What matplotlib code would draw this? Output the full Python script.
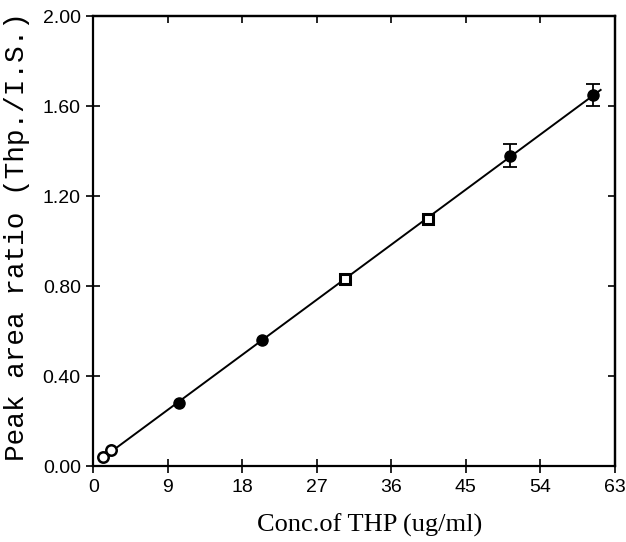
import numpy as np
import matplotlib
matplotlib.use("Agg")
import matplotlib.pyplot as plt
from matplotlib import font_manager

# Data
conc = [1.2, 2.1, 10.4, 20.4, 30.4, 40.4, 50.4, 60.4]
ratio = [0.04, 0.07, 0.28, 0.56, 0.83, 1.10, 1.38, 1.65]
err = [0.0, 0.0, 0.0, 0.0, 0.0, 0.0, 0.05, 0.05]
marker_kind = ["open", "open", "filled", "filled", "square", "square", "filled", "filled"]
xticks = [0, 9, 18, 27, 36, 45, 54, 63]
yticks = [0.00, 0.40, 0.80, 1.20, 1.60, 2.00]

names = {f.name for f in font_manager.fontManager.ttflist}
tickfont = "Liberation Sans Narrow" if "Liberation Sans Narrow" in names else "Liberation Sans"

fig = plt.figure(figsize=(6.26, 5.42), dpi=100)
ax = fig.add_axes([0.149, 0.140, 0.833, 0.830])

# regression line
p = np.polyfit(conc, ratio, 1)
xl = np.array([2.0, 61.3])
ax.plot(xl, np.polyval(p, xl), color="black", lw=1.4, zorder=2)

for x, y, e, k in zip(conc, ratio, err, marker_kind):
    if e > 0:
        ax.errorbar(x, y, yerr=e, fmt="none", ecolor="black", elinewidth=1.3,
                    capsize=5, capthick=1.3, zorder=3)
    if k == "filled":
        ax.plot(x, y, "o", ms=8, mfc="black", mec="black", zorder=4)
    elif k == "square":
        ax.plot(x, y, "s", ms=7, mfc="white", mec="black", mew=2.2, zorder=4)
    else:
        ax.plot(x, y, "o", ms=7.5, mfc="white", mec="black", mew=1.8, zorder=4)

ax.set_xlim(0, 63)
ax.set_ylim(0, 2.0)
ax.set_xticks(xticks)
ax.set_yticks(yticks)
ax.set_xticklabels([str(t) for t in xticks], fontfamily=tickfont, fontsize=14)
ax.set_yticklabels([f"{t:.2f}" for t in yticks], fontfamily=tickfont, fontsize=14)
ax.tick_params(axis="both", which="major", direction="inout", length=10, width=1.2, pad=4)
for s in ax.spines.values():
    s.set_linewidth(1.6)

# inward ticks on top and right
top = ax.secondary_xaxis("top")
top.set_xticks(xticks)
top.tick_params(direction="in", length=5, width=1.2, labeltop=False)
right = ax.secondary_yaxis("right")
right.set_yticks(yticks)
right.tick_params(direction="in", length=5, width=1.2, labelright=False)
top.spines["top"].set_linewidth(1.6)
right.spines["right"].set_linewidth(1.6)

ax.set_xlabel("Conc.of THP (ug/ml)", fontfamily="Liberation Serif", fontsize=19)
ax.xaxis.set_label_coords(0.53, -0.105)
ax.set_ylabel("Peak area ratio (Thp./I.S.)", fontfamily="Liberation Mono", fontsize=20)
ax.yaxis.set_label_coords(-0.122, 0.51)

fig.savefig("out.png", dpi=100)
